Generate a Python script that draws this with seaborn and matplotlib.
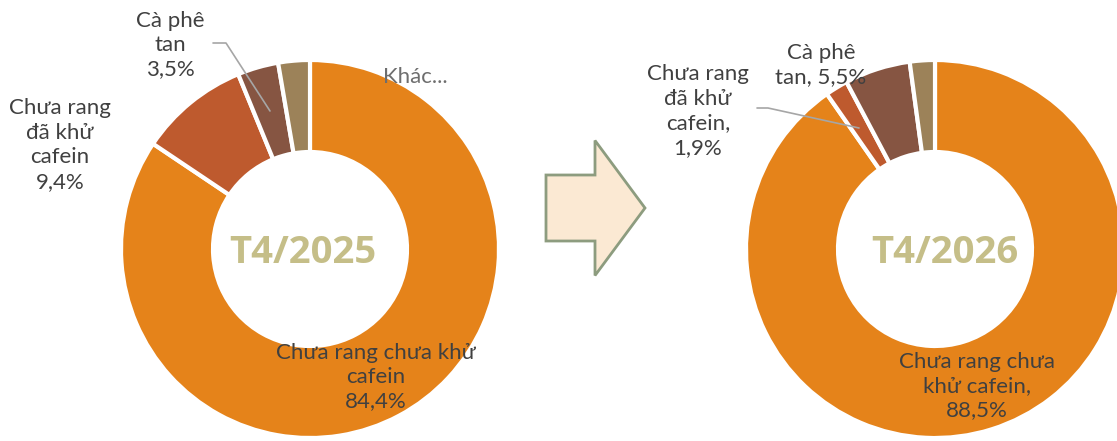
import matplotlib
matplotlib.use("Agg")
import matplotlib.pyplot as plt
import matplotlib.patches as mpatches
import seaborn as sns

sns.set_theme(style="white")
plt.rcParams['font.family'] = ['Lato', 'Noto Sans', 'DejaVu Sans']

# data
segments = ["Chưa rang chưa khử cafein", "Chưa rang đã khử cafein", "Cà phê tan", "Khác"]
share_2025 = [84.4, 9.4, 3.5, 2.7]
share_2026 = [88.5, 1.9, 5.5, 2.1]
period_labels = ["T4/2025", "T4/2026"]
labels_2025 = ["Chưa rang chưa khử\ncafein\n84,4%", "Chưa rang\nđã khử\ncafein\n9,4%",
               "Cà phê\ntan\n3,5%", "Khác..."]
labels_2026 = ["Chưa rang chưa\nkhử cafein,\n88,5%", "Chưa rang\nđã khử\ncafein,\n1,9%",
               "Cà phê\ntan, 5,5%", None]

colors = sns.color_palette(["#E5831A", "#BE5A2E", "#865542", "#9C8259"])
TXT = "#404040"
W, H = 1117, 441


def Y(y):
    # pixel row (from top) -> data y
    return H - y


fig = plt.figure(figsize=(W / 100, H / 100), dpi=100)
ax = fig.add_axes([0, 0, 1, 1])


def donut(values, cx, cy, center_text, tx):
    ax.pie(values, center=(cx, Y(cy)), radius=189, startangle=90, counterclock=False,
           colors=colors, normalize=True,
           wedgeprops=dict(width=92, edgecolor="white", linewidth=3))
    ax.text(tx, Y(cy + 4), center_text, ha="center", va="center",
            fontsize=27.5, fontweight="bold", color="#C5BE88",
            family=["Open Sans", "Noto Sans", "DejaVu Sans"])


donut(share_2025, 310, 249, period_labels[0], 303)
donut(share_2026, 935, 249, period_labels[1], 945)

fs = 16
ls = 1.28
# left chart labels
ax.text(376, Y(377), labels_2025[0], ha="center", va="center", fontsize=fs, color=TXT, linespacing=ls)
ax.text(60, Y(145), labels_2025[1], ha="center", va="center", fontsize=fs, color=TXT, linespacing=ls)
ax.text(170, Y(45), labels_2025[2], ha="center", va="center", fontsize=fs, color=TXT, linespacing=ls)
ax.text(383, Y(77), labels_2025[3], ha="left", va="center", fontsize=fs, color="#6E6E6E")
ax.plot([213, 226, 270], [Y(43), Y(43), Y(111)], color="#A6A6A6", lw=1.2)

# right chart labels
ax.text(977, Y(386), labels_2026[0], ha="center", va="center", fontsize=fs, color=TXT, linespacing=ls)
ax.text(698, Y(111), labels_2026[1], ha="center", va="center", fontsize=fs, color=TXT, linespacing=ls)
ax.text(821, Y(65), labels_2026[2], ha="center", va="center", fontsize=fs, color=TXT, linespacing=ls)
ax.plot([757, 768, 859], [Y(108), Y(108), Y(128)], color="#A6A6A6", lw=1.2)

# arrow between the two periods
arrow = mpatches.FancyArrow(546, Y(208), 99, 0, width=66, head_width=135, head_length=50,
                            length_includes_head=True, facecolor="#FBE9D3",
                            edgecolor="#8D9C7F", linewidth=2)
ax.add_patch(arrow)

ax.set_xlim(0, W)
ax.set_ylim(0, H)
ax.set_aspect("equal")
ax.axis("off")

plt.savefig("out.png", dpi=100)
plt.close()
